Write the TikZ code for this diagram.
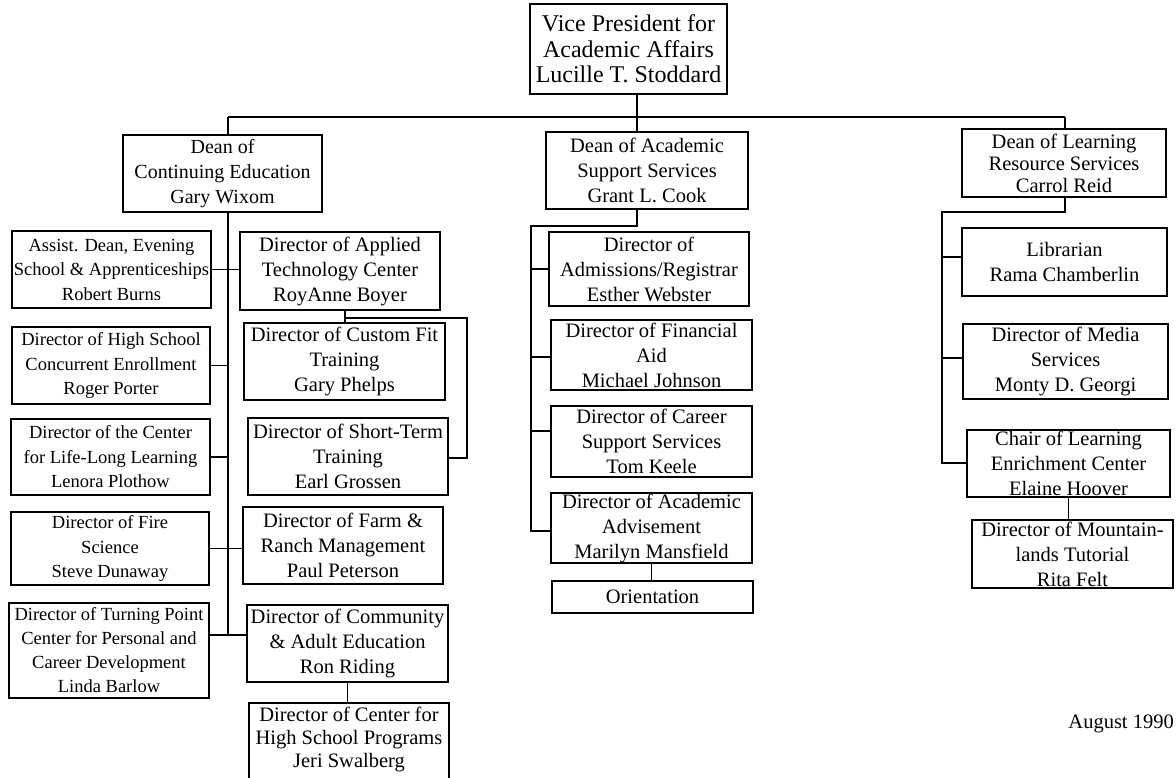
\documentclass[tikz,border=0pt]{standalone}
\usepackage{fontspec}
\setmainfont{Liberation Serif}
\newcommand\bx[7][]{\node[box,minimum width={(#5)-(#3)},minimum height={(#6)-(#4)},#1] (#2) at ({((#3)+(#5))/2},{((#4)+(#6))/2}) {#7};}
\begin{document}
\begin{tikzpicture}[x=1pt,y=-1pt,
  box/.style={draw,line width=1.5pt,inner sep=0pt,align=center,font=\fontsize{20.5}{25}\selectfont},
  lcol/.style={font=\fontsize{18.5}{24.5}\selectfont},
  conn/.style={line width=1.5pt}]
\useasboundingbox[fill=white] (0,0) rectangle (1176,778);
% top
\bx[font=\fontsize{24}{25.5}\selectfont]{vp}{530}{4}{727}{94}{Vice President for\\Academic Affairs\\Lucille T. Stoddard}
\bx[font=\fontsize{20}{25}\selectfont]{dce}{123}{135}{322}{212}{Dean of\\Continuing Education\\Gary Wixom}
\bx{dass}{546}{132}{748}{209}{Dean of Academic\\Support Services\\Grant L. Cook}
\bx[font=\fontsize{20.5}{22}\selectfont]{dlrs}{962}{129}{1166}{197}{Dean of Learning\\Resource Services\\Carrol Reid}
% left column
\bx[lcol]{ad}{12}{231}{211}{308}{Assist. Dean, Evening\\School \& Apprenticeships\\Robert Burns}
\bx[lcol]{hs}{12}{327}{210}{404}{Director of High School\\Concurrent Enrollment\\Roger Porter}
\bx[lcol]{ll}{11}{419}{210}{495}{Director of the Center\\for Life-Long Learning\\Lenora Plothow}
\bx[lcol]{fire}{11}{512}{209}{585}{Director of Fire\\Science\\Steve Dunaway}
\bx[lcol,font=\fontsize{18.5}{24}\selectfont]{tp}{9}{603}{209}{698}{Director of Turning Point\\Center for Personal and\\Career Development\\Linda Barlow}
% second column
\bx{atc}{240}{232}{440}{310}{Director of Applied\\Technology Center\\RoyAnne Boyer}
\bx{cf}{244}{323}{445}{400}{Director of Custom Fit\\Training\\Gary Phelps}
\bx{st}{248}{418}{448}{495}{Director of Short-Term\\Training\\Earl Grossen}
\bx{farm}{243}{507}{443}{584}{Director of Farm \&\\Ranch Management\\Paul Peterson}
\bx{comm}{247}{605}{448}{682}{Director of Community\\\& Adult Education\\Ron Riding}
\bx[font=\fontsize{20.5}{23}\selectfont]{chs}{249}{703}{449}{795}{Director of Center for\\High School Programs\\Jeri Swalberg\\\mbox{}}
% middle column
\bx{adm}{549}{232}{749}{306}{Director of\\Admissions/Registrar\\Esther Webster}
\bx{fin}{551}{320}{752}{390}{Director of Financial\\Aid\\Michael Johnson}
\bx{car}{551}{406}{752}{477}{Director of Career\\Support Services\\Tom Keele}
\bx{aa}{551}{493}{752}{563}{Director of Academic\\Advisement\\Marilyn Mansfield}
\bx{ori}{552}{581}{753}{613}{Orientation}
% right column
\bx{lib}{962}{228}{1167}{296}{Librarian\\Rama Chamberlin}
\bx{med}{963}{324}{1168}{399}{Director of Media\\Services\\Monty D. Georgi}
\bx{chair}{967}{430}{1170}{497}{Chair of Learning\\Enrichment Center\\Elaine Hoover}
\bx{mtn}{972}{520}{1173}{588}{Director of Mountain-\\lands Tutorial\\Rita Felt}
\node[anchor=base east,inner sep=0pt,font=\fontsize{20.5}{24}\selectfont] (date) at (1174,728) {August 1990};
% connector joints
\coordinate (bL) at (228,117);
\coordinate (bM) at (637,117);
\coordinate (bR) at (1065,117);
\coordinate (tpj) at (228,635);
\coordinate (atj) at (345,318);
\coordinate (atr) at (467,318);
\coordinate (str) at (467,458);
\coordinate (mj) at (637,226);
\coordinate (ml) at (531,226);
\coordinate (mb) at (531,531);
\coordinate (rj) at (1065,212);
\coordinate (rl) at (942,212);
\coordinate (rb) at (942,463);
% top bus
\draw[conn] (vp.south -| bM) -- (bM);
\draw[conn] (bL) -- (bR);
\draw[conn] (bL) -- (dce.north -| bL);
\draw[conn] (bM) -- (dass.north -| bM);
\draw[conn] (bR) -- (dlrs.north -| bR);
% continuing education
\draw[conn] (dce.south -| bL) -- (tpj);
\draw[conn] (ad.east) -- (ad.east -| atc.west);
\draw[conn] (hs.east) -- (hs.east -| bL);
\draw[conn] (ll.east) -- (ll.east -| bL);
\draw[conn] (fire.east) -- (fire.east -| farm.west);
\draw[conn] (tp.east |- tpj) -- (comm.west |- tpj);
\draw[conn] (comm.south) -- (comm.south |- chs.north);
\draw[conn] (atc.south -| atj) -- (cf.north -| atj);
\draw[conn] (atj) -- (atr) -- (str) -- (st.east |- str);
% academic support
\draw[conn] (dass.south -| mj) -- (mj) -- (ml) -- (mb) -- (aa.west |- mb);
\draw[conn] (adm.west |- 0,269) -- (ml |- 0,269);
\draw[conn] (fin.west |- 0,357) -- (ml |- 0,357);
\draw[conn] (car.west |- 0,431) -- (ml |- 0,431);
\draw[conn] (aa.south) -- (aa.south |- ori.north);
% learning resources
\draw[conn] (dlrs.south -| rj) -- (rj) -- (rl) -- (rb) -- (chair.west |- rb);
\draw[conn] (lib.west |- 0,257) -- (rl |- 0,257);
\draw[conn] (med.west |- 0,358) -- (rl |- 0,358);
\draw[conn] (chair.south) -- (chair.south |- mtn.north);
\end{tikzpicture}
\end{document}
